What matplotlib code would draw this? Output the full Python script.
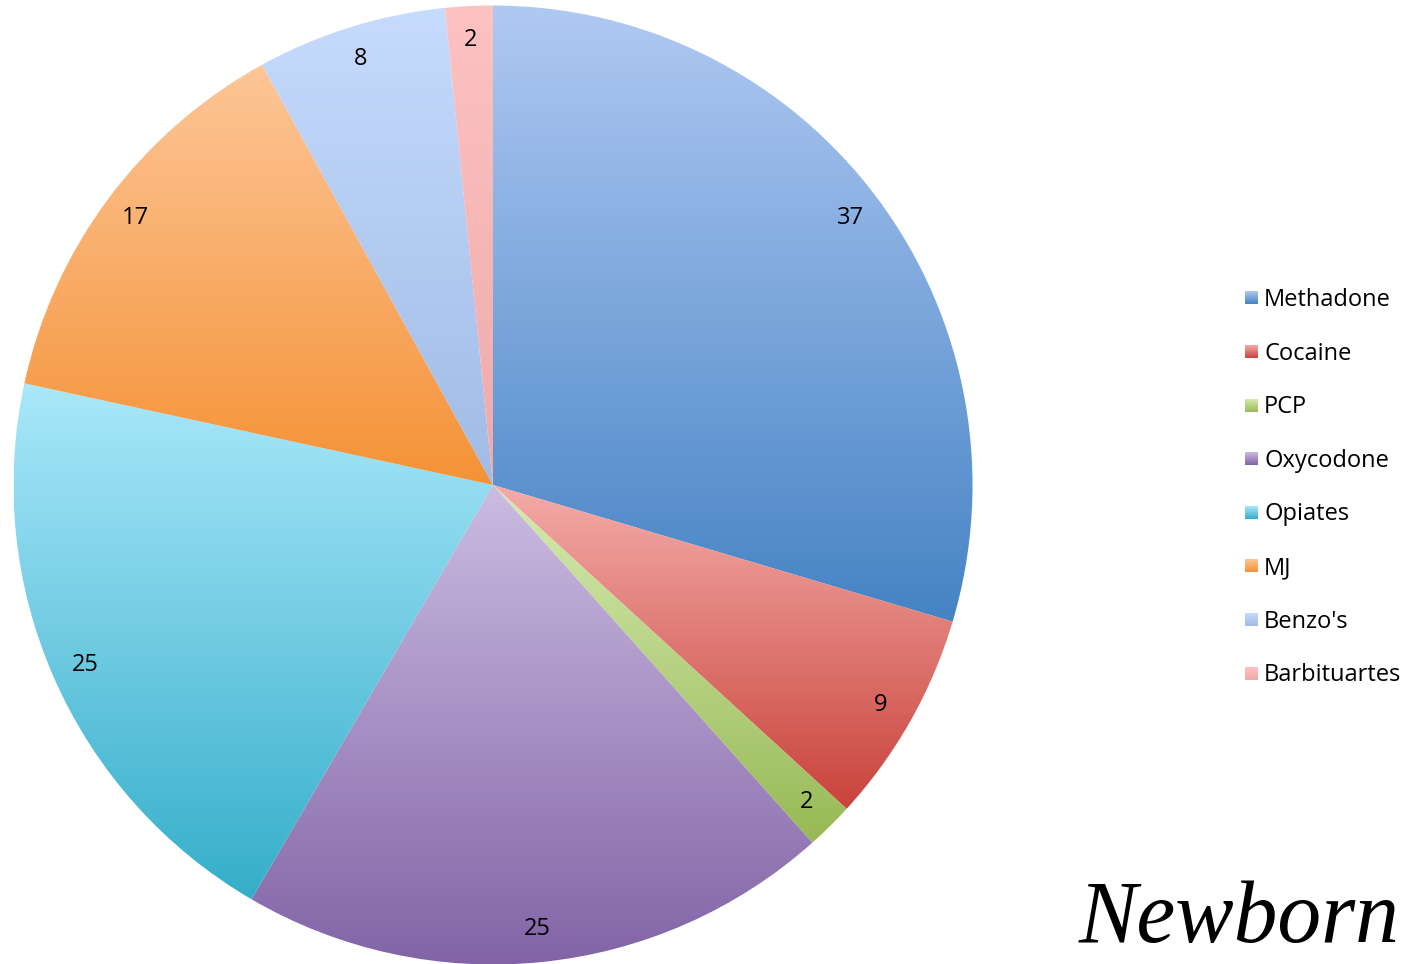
#!/usr/bin/env python3
"""
Newborn substance exposure pie chart with per-slice vertical gradients.
"""

import matplotlib
matplotlib.use("Agg")
import matplotlib.pyplot as plt
import numpy as np
from matplotlib.colors import to_rgb


categories = ["Methadone", "Cocaine", "PCP", "Oxycodone", "Opiates", "MJ",
              "Benzo's", "Barbituartes"]
counts = [37, 9, 2, 25, 25, 17, 8, 2]
top_colors = ["#b0c9f3", "#f4aba8", "#d6ebb2", "#cbbce2", "#aae8fa", "#fdc698",
              "#c6dbfd", "#fdc2c2"]
bottom_colors = ["#4583c4", "#c9433b", "#98b955", "#8264a6", "#35aeca", "#f59236",
                 "#a0bbe5", "#efaaaa"]
title_text = "Newborn"

W, H = 1415, 964
CX, CY, R = 493, 964 - 485, 479.5


def gradient(top, bottom, n=256):
    t = np.linspace(0.0, 1.0, n)[:, None]
    a = np.array(to_rgb(top))[None, :]
    b = np.array(to_rgb(bottom))[None, :]
    return (a + (b - a) * t)[:, None, :]


def main() -> None:
    plt.rcParams["font.family"] = ["Open Sans", "DejaVu Sans"]
    fig = plt.figure(figsize=(W / 100, H / 100), dpi=100)
    ax = fig.add_axes([0, 0, 1, 1])

    total = sum(counts)
    wedges, texts, autotexts = ax.pie(
        counts,
        startangle=90,
        counterclock=False,
        center=(CX, CY),
        radius=R,
        autopct=lambda p: f"{round(p * total / 100)}",
        pctdistance=0.93,
        frame=True,
        textprops={"fontsize": 17, "color": "black"},
    )

    for w, c0, c1 in zip(wedges, top_colors, bottom_colors):
        w.set_facecolor("none")
        w.set_edgecolor("none")
        ext = w.get_path().get_extents()
        im = ax.imshow(gradient(c0, c1), extent=[ext.x0, ext.x1, ext.y0, ext.y1],
                       origin="upper", aspect="auto", interpolation="bilinear",
                       zorder=1)
        im.set_clip_path(w)

    # legend drawn by hand so the swatches keep the gradient
    lx, ly0, step, sw = 1245, 964 - 298, 53.6, 13
    for i, (name, c0, c1) in enumerate(zip(categories, top_colors, bottom_colors)):
        y = ly0 - i * step
        ax.imshow(gradient(c0, c1), extent=[lx, lx + sw, y - sw / 2, y + sw / 2],
                  origin="upper", aspect="auto", interpolation="bilinear", zorder=2)
        ax.text(lx + 19, y - 2, name, fontsize=17, va="center", ha="left")

    ax.text(1400, 964 - 942, title_text, fontsize=63, ha="right", va="baseline",
            family=["Liberation Serif", "DejaVu Serif"], style="italic")

    ax.set_xlim(0, W)
    ax.set_ylim(0, H)
    ax.set_aspect("auto")
    ax.axis("off")
    fig.savefig("out.png", dpi=100)
    plt.close(fig)


if __name__ == "__main__":
    main()
